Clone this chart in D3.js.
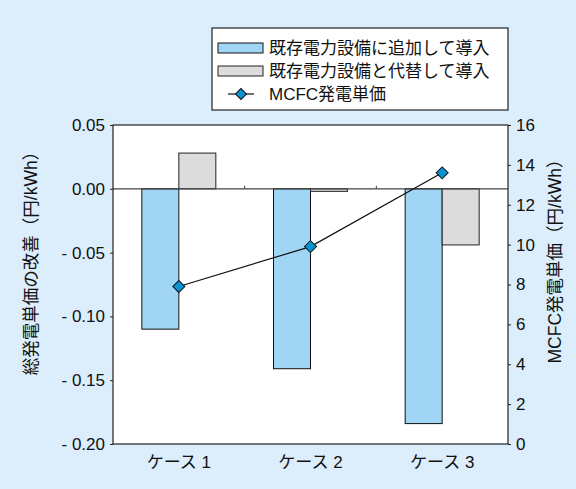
<!DOCTYPE html>
<html>
<head>
<meta charset="utf-8">
<script src="https://cdn.jsdelivr.net/npm/d3@7"></script>
<style>
  html, body { margin: 0; padding: 0; background: #dcedfb; }
  svg { display: block; }
  text { font-family: "Liberation Sans", Arial, "Noto Sans CJK JP", sans-serif; fill: #111; }
</style>
</head>
<body>
<svg id="chart" width="576" height="489"></svg>
<script>
// Data
const categories = ["ケース 1", "ケース 2", "ケース 3"];
const addedValues = [-0.110, -0.141, -0.184];      // 既存電力設備に追加して導入
const replacedValues = [0.028, -0.002, -0.044];    // 既存電力設備と代替して導入
const mcfcCost = [7.9, 9.9, 13.6];                 // MCFC発電単価
const leftTicks = [0.05, 0.00, -0.05, -0.10, -0.15, -0.20];
const rightTicks = [0, 2, 4, 6, 8, 10, 12, 14, 16];
const seriesNames = ["既存電力設備に追加して導入", "既存電力設備と代替して導入", "MCFC発電単価"];

const svg = d3.select("#chart");
const W = 576, H = 489;
const plot = { left: 113, right: 508, top: 125, bottom: 444 };

svg.append("rect").attr("width", W).attr("height", H).attr("fill", "#dcedfb");

const x = d3.scaleBand().domain(categories).range([plot.left, plot.right]);
const y = d3.scaleLinear().domain([-0.20, 0.05]).range([plot.bottom, plot.top]);
const y2 = d3.scaleLinear().domain([0, 16]).range([plot.bottom, plot.top]);

// Plot background
svg.append("rect")
  .attr("x", plot.left).attr("y", plot.top)
  .attr("width", plot.right - plot.left).attr("height", plot.bottom - plot.top)
  .attr("fill", "#fff");

const barW = 37;
// Bars: added (left of center), replaced (right of center)
svg.append("g").selectAll("rect").data(categories).join("rect")
  .attr("x", d => x(d) + x.bandwidth() / 2 - barW)
  .attr("y", (d, i) => y(Math.max(0, addedValues[i])))
  .attr("width", barW)
  .attr("height", (d, i) => Math.abs(y(addedValues[i]) - y(0)))
  .attr("fill", "#a0d5f3").attr("stroke", "#111").attr("stroke-width", 1);

svg.append("g").selectAll("rect").data(categories).join("rect")
  .attr("x", d => x(d) + x.bandwidth() / 2)
  .attr("y", (d, i) => y(Math.max(0, replacedValues[i])))
  .attr("width", barW)
  .attr("height", (d, i) => Math.abs(y(replacedValues[i]) - y(0)))
  .attr("fill", "#dcdcdc").attr("stroke", "#222").attr("stroke-width", 1);

// Zero line with small category-boundary ticks
svg.append("line")
  .attr("x1", plot.left).attr("x2", plot.right)
  .attr("y1", y(0)).attr("y2", y(0))
  .attr("stroke", "#444").attr("stroke-width", 1.2);
svg.append("g").selectAll("line").data(categories.slice(1)).join("line")
  .attr("x1", d => x(d)).attr("x2", d => x(d))
  .attr("y1", y(0)).attr("y2", y(0) - 3)
  .attr("stroke", "#444");

// MCFC line
const line = d3.line().x((d, i) => x(categories[i]) + x.bandwidth() / 2).y(d => y2(d));
svg.append("path").datum(mcfcCost).attr("d", line)
  .attr("fill", "none").attr("stroke", "#111").attr("stroke-width", 1.2);
svg.append("g").selectAll("path").data(mcfcCost).join("path")
  .attr("transform", (d, i) => `translate(${x(categories[i]) + x.bandwidth() / 2},${y2(d)}) rotate(45)`)
  .attr("d", d3.symbol(d3.symbolSquare, 72)())
  .attr("fill", "#0a93d2").attr("stroke", "#111").attr("stroke-width", 1);

// Plot frame
svg.append("rect")
  .attr("x", plot.left).attr("y", plot.top)
  .attr("width", plot.right - plot.left).attr("height", plot.bottom - plot.top)
  .attr("fill", "none").attr("stroke", "#222").attr("stroke-width", 1.2);

// Left axis
const fmtLeft = v => (v < -1e-9 ? "- " + d3.format(".2f")(-v) : d3.format(".2f")(Math.abs(v)));
const gl = svg.append("g").attr("transform", `translate(${plot.left},0)`)
  .call(d3.axisLeft(y).tickValues(leftTicks).tickFormat(fmtLeft).tickSize(3).tickPadding(5));
gl.select(".domain").remove();
gl.selectAll("line").attr("stroke", "#222");
gl.selectAll("text").attr("font-size", 17).attr("fill", "#111");

// Right axis
const gr = svg.append("g").attr("transform", `translate(${plot.right},0)`)
  .call(d3.axisRight(y2).tickValues(rightTicks).tickFormat(d3.format("d")).tickSize(3).tickPadding(5));
gr.select(".domain").remove();
gr.selectAll("line").attr("stroke", "#222");
gr.selectAll("text").attr("font-size", 17).attr("fill", "#111");

// Category labels
const gx = svg.append("g").attr("transform", `translate(0,${plot.bottom})`)
  .call(d3.axisBottom(x).tickSize(0).tickPadding(12));
gx.select(".domain").remove();
gx.selectAll("text").attr("font-size", 17).attr("fill", "#111")
  .attr("font-family", "'Noto Sans CJK JP', sans-serif");

// Axis titles
const titleY = 259;
svg.append("text")
  .attr("transform", `translate(31,${titleY}) rotate(-90)`)
  .attr("text-anchor", "middle").attr("dominant-baseline", "central")
  .attr("font-size", 17.5)
  .text("総発電単価の改善（円/kWh）");
svg.append("text")
  .attr("transform", `translate(555,${titleY - 2}) rotate(-90)`)
  .attr("text-anchor", "middle").attr("dominant-baseline", "central")
  .attr("font-size", 17.5)
  .text("MCFC発電単価（円/kWh）");

// Legend
const lg = svg.append("g");
lg.append("rect").attr("x", 212).attr("y", 28).attr("width", 296).attr("height", 82)
  .attr("fill", "#fff").attr("stroke", "#222").attr("stroke-width", 1.2);
const rowY = [48, 71, 94];
lg.append("rect").attr("x", 218).attr("y", rowY[0] - 5).attr("width", 45).attr("height", 10)
  .attr("fill", "#a0d5f3").attr("stroke", "#111");
lg.append("rect").attr("x", 218).attr("y", rowY[1] - 5).attr("width", 45).attr("height", 10)
  .attr("fill", "#dcdcdc").attr("stroke", "#222");
lg.append("line").attr("x1", 228).attr("x2", 254).attr("y1", rowY[2]).attr("y2", rowY[2])
  .attr("stroke", "#111").attr("stroke-width", 1.2);
lg.append("path").attr("transform", `translate(241,${rowY[2]}) rotate(45)`)
  .attr("d", d3.symbol(d3.symbolSquare, 60)())
  .attr("fill", "#0a93d2").attr("stroke", "#111");
lg.selectAll("text.lab").data(seriesNames).join("text").attr("class", "lab")
  .attr("x", 269).attr("y", (d, i) => rowY[i])
  .attr("dominant-baseline", "central")
  .attr("font-size", 17)
  .text(d => d);
</script>
</body>
</html>
